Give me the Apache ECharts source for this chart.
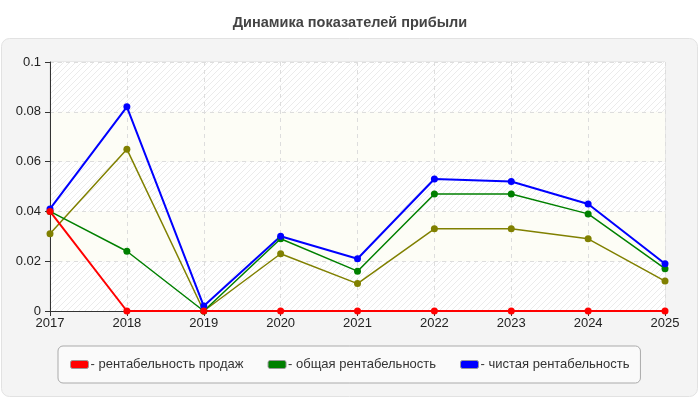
<!DOCTYPE html>
<html>
<head>
<meta charset="utf-8">
<script src="https://cdn.jsdelivr.net/npm/echarts@6/dist/echarts.min.js"></script>
<style>
  html, body { margin: 0; padding: 0; background: #fff; }
  #chart { width: 700px; height: 400px; }
</style>
</head>
<body>
<div id="chart"></div>
<script>
var years = ['2017', '2018', '2019', '2020', '2021', '2022', '2023', '2024', '2025'];
var salesProfit = [0.040, 0, 0, 0, 0, 0, 0, 0, 0];
var totalProfit = [0.040, 0.024, 0.000, 0.029, 0.016, 0.047, 0.047, 0.039, 0.017];
var netProfit = [0.041, 0.082, 0.002, 0.030, 0.021, 0.053, 0.052, 0.043, 0.019];
var otherProfit = [0.031, 0.065, 0.000, 0.023, 0.011, 0.033, 0.033, 0.029, 0.012];

// штриховка для полос фона
var hatch = document.createElement('canvas');
hatch.width = 6;
hatch.height = 6;
var ctx = hatch.getContext('2d');
ctx.fillStyle = '#ffffff';
ctx.fillRect(0, 0, 6, 6);
ctx.strokeStyle = '#ebebeb';
ctx.lineWidth = 1;
ctx.beginPath();
ctx.moveTo(0, 6); ctx.lineTo(6, 0);
ctx.moveTo(-1, 1); ctx.lineTo(1, -1);
ctx.moveTo(5, 7); ctx.lineTo(7, 5);
ctx.stroke();

var chart = echarts.init(document.getElementById('chart'));
var font = 'Liberation Sans, Arial, sans-serif';

function line(name, data, color, width) {
    return {
        name: name,
        type: 'line',
        data: data,
        symbol: 'circle',
        symbolSize: 7,
        lineStyle: { color: color, width: width },
        itemStyle: { color: color },
        emphasis: { disabled: true },
        z: 3
    };
}

var option = {
    textStyle: { fontFamily: font },
    animation: false,
    title: {
        text: 'Динамика показателей прибыли',
        left: 'center',
        top: 10,
        textStyle: { fontSize: 14.5, fontWeight: 'bold', color: '#444', fontFamily: font }
    },
    graphic: [{
        type: 'rect',
        shape: { x: 1.5, y: 38.5, width: 696, height: 358, r: 8 },
        style: { fill: '#f4f4f4', stroke: '#e2e2e2', lineWidth: 1 },
        z: -10
    }],
    legend: {
        data: ['рентабельность продаж', 'общая рентабельность', 'чистая рентабельность'],
        left: 58,
        top: 346,
        padding: [12, 11, 12, 12],
        itemGap: 24,
        itemWidth: 18,
        itemHeight: 8,
        icon: 'roundRect',
        backgroundColor: '#fafafa',
        borderColor: '#aaa',
        borderWidth: 1,
        borderRadius: 5,
        itemStyle: { borderColor: '#999', borderWidth: 1 },
        formatter: function (n) { return '- ' + n; },
        textStyle: { fontSize: 13, color: '#333', fontFamily: font, padding: [0, 0, 0, -3] }
    },
    grid: {
        left: 50,
        right: 35,
        top: 62,
        bottom: 89,
        show: true,
        borderColor: '#dcdcdc',
        borderWidth: 1,
        backgroundColor: 'transparent'
    },
    xAxis: {
        type: 'category',
        data: years,
        boundaryGap: false,
        axisLine: { lineStyle: { color: '#333', width: 1 } },
        axisTick: { show: true, alignWithLabel: true, length: 5, lineStyle: { color: '#333' } },
        axisLabel: { fontSize: 13, color: '#222', margin: 6, fontFamily: font },
        splitLine: { show: true, lineStyle: { color: '#dddddd', type: [4, 4] } }
    },
    yAxis: {
        type: 'value',
        min: 0,
        max: 0.1,
        interval: 0.02,
        axisLine: { show: true, lineStyle: { color: '#333', width: 1 } },
        axisTick: { show: true, length: 5, lineStyle: { color: '#333' } },
        axisLabel: { fontSize: 13, color: '#222', margin: 9, fontFamily: font },
        splitLine: { show: true, lineStyle: { color: '#dddddd', type: [4, 4] } },
        splitArea: {
            show: true,
            areaStyle: {
                color: [
                    { image: hatch, repeat: 'repeat' },
                    '#fdfdf6'
                ]
            }
        }
    },
    series: [
        line('прочая рентабельность', otherProfit, '#808000', 1.5),
        line('общая рентабельность', totalProfit, '#008000', 1.5),
        line('чистая рентабельность', netProfit, '#0000ff', 2),
        line('рентабельность продаж', salesProfit, '#ff0000', 2)
    ]
};
chart.setOption(option);
</script>
</body>
</html>
